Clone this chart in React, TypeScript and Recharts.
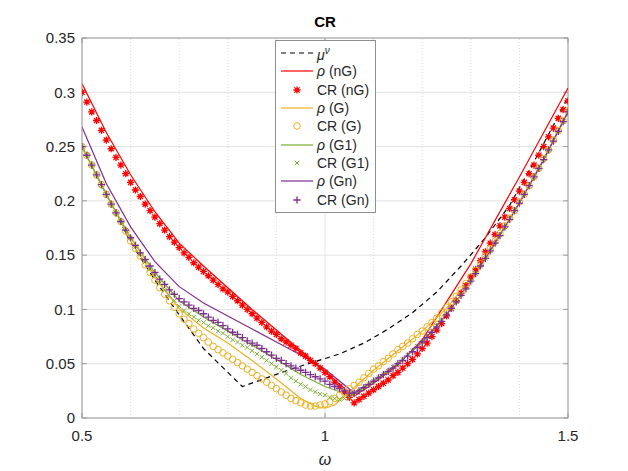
import React from "react"
import {
  ComposedChart,
  Line,
  Scatter,
  XAxis,
  YAxis,
  CartesianGrid,
  ReferenceLine,
  Legend,
} from "recharts"

const FONT = "'Liberation Sans', Arial, Helvetica, sans-serif"

// sample grid of the CR markers
const omega = [
  0.5, 0.51, 0.52, 0.53, 0.54, 0.55, 0.56, 0.57, 0.58, 0.59,
  0.6, 0.61, 0.62, 0.63, 0.64, 0.65, 0.66, 0.67, 0.68, 0.69,
  0.7, 0.71, 0.72, 0.73, 0.74, 0.75, 0.76, 0.77, 0.78, 0.79,
  0.8, 0.81, 0.82, 0.83, 0.84, 0.85, 0.86, 0.87, 0.88, 0.89,
  0.9, 0.91, 0.92, 0.93, 0.94, 0.95, 0.96, 0.97, 0.98, 0.99,
  1.0, 1.01, 1.02, 1.03, 1.04, 1.05, 1.06, 1.07, 1.08, 1.09,
  1.1, 1.11, 1.12, 1.13, 1.14, 1.15, 1.16, 1.17, 1.18, 1.19,
  1.2, 1.21, 1.22, 1.23, 1.24, 1.25, 1.26, 1.27, 1.28, 1.29,
  1.3, 1.31, 1.32, 1.33, 1.34, 1.35, 1.36, 1.37, 1.38, 1.39,
  1.4, 1.41, 1.42, 1.43, 1.44, 1.45, 1.46, 1.47, 1.48, 1.49,
  1.5,
]

const crNG = [
  0.300, 0.291, 0.282, 0.274, 0.265, 0.256, 0.248, 0.240, 0.233, 0.225,
  0.217, 0.210, 0.204, 0.197, 0.191, 0.185, 0.179, 0.173, 0.167, 0.162,
  0.157, 0.152, 0.148, 0.143, 0.139, 0.135, 0.131, 0.127, 0.123, 0.119,
  0.116, 0.112, 0.108, 0.104, 0.100, 0.096, 0.092, 0.088, 0.084, 0.080,
  0.077, 0.073, 0.070, 0.067, 0.064, 0.060, 0.057, 0.053, 0.050, 0.046,
  0.042, 0.038, 0.033, 0.029, 0.024, 0.019, 0.014, 0.017, 0.020, 0.023,
  0.026, 0.029, 0.032, 0.035, 0.039, 0.042, 0.046, 0.050, 0.054, 0.059,
  0.064, 0.069, 0.075, 0.081, 0.087, 0.094, 0.101, 0.108, 0.115, 0.122,
  0.130, 0.137, 0.145, 0.153, 0.161, 0.169, 0.177, 0.185, 0.193, 0.201,
  0.209, 0.217, 0.225, 0.233, 0.242, 0.250, 0.259, 0.267, 0.276, 0.284,
  0.292,
]

const crG = [
  0.250, 0.242, 0.233, 0.224, 0.215, 0.206, 0.197, 0.189, 0.181, 0.172,
  0.163, 0.156, 0.149, 0.141, 0.134, 0.127, 0.120, 0.114, 0.108, 0.102,
  0.096, 0.091, 0.087, 0.082, 0.078, 0.074, 0.070, 0.066, 0.063, 0.060,
  0.057, 0.054, 0.051, 0.048, 0.045, 0.042, 0.039, 0.036, 0.033, 0.030,
  0.027, 0.024, 0.021, 0.018, 0.016, 0.014, 0.012, 0.011, 0.011, 0.012,
  0.013, 0.015, 0.018, 0.021, 0.024, 0.027, 0.030, 0.033, 0.037, 0.041,
  0.045, 0.048, 0.052, 0.055, 0.059, 0.063, 0.066, 0.069, 0.073, 0.077,
  0.080, 0.084, 0.088, 0.092, 0.097, 0.102, 0.107, 0.112, 0.118, 0.124,
  0.130, 0.136, 0.142, 0.149, 0.156, 0.163, 0.170, 0.177, 0.184, 0.191,
  0.199, 0.206, 0.214, 0.222, 0.230, 0.239, 0.247, 0.256, 0.265, 0.274,
  0.283,
]

const crG1 = [
  0.250, 0.242, 0.233, 0.224, 0.215, 0.206, 0.197, 0.189, 0.181, 0.173,
  0.166, 0.158, 0.151, 0.144, 0.137, 0.131, 0.124, 0.118, 0.113, 0.108,
  0.103, 0.099, 0.096, 0.093, 0.090, 0.088, 0.085, 0.083, 0.080, 0.078,
  0.075, 0.072, 0.070, 0.067, 0.065, 0.062, 0.059, 0.056, 0.053, 0.050,
  0.047, 0.044, 0.041, 0.037, 0.034, 0.031, 0.029, 0.026, 0.024, 0.022,
  0.021, 0.019, 0.018, 0.017, 0.018, 0.019, 0.022, 0.025, 0.028, 0.031,
  0.034, 0.037, 0.040, 0.043, 0.047, 0.050, 0.054, 0.058, 0.062, 0.066,
  0.070, 0.075, 0.080, 0.085, 0.090, 0.096, 0.101, 0.107, 0.113, 0.120,
  0.126, 0.133, 0.140, 0.147, 0.154, 0.161, 0.169, 0.176, 0.184, 0.191,
  0.199, 0.206, 0.214, 0.222, 0.230, 0.239, 0.247, 0.256, 0.264, 0.273,
  0.282,
]

const crGn = [
  0.250, 0.242, 0.233, 0.224, 0.215, 0.206, 0.197, 0.189, 0.181, 0.173,
  0.166, 0.159, 0.152, 0.146, 0.140, 0.134, 0.128, 0.123, 0.118, 0.114,
  0.110, 0.107, 0.104, 0.101, 0.099, 0.096, 0.093, 0.090, 0.088, 0.085,
  0.082, 0.079, 0.077, 0.074, 0.071, 0.069, 0.067, 0.064, 0.061, 0.058,
  0.055, 0.053, 0.050, 0.048, 0.046, 0.044, 0.042, 0.040, 0.038, 0.036,
  0.034, 0.031, 0.029, 0.027, 0.025, 0.023, 0.023, 0.025, 0.028, 0.031,
  0.034, 0.037, 0.040, 0.043, 0.046, 0.050, 0.053, 0.057, 0.061, 0.065,
  0.070, 0.074, 0.079, 0.084, 0.089, 0.095, 0.101, 0.107, 0.113, 0.119,
  0.126, 0.133, 0.140, 0.147, 0.154, 0.161, 0.168, 0.176, 0.183, 0.191,
  0.198, 0.206, 0.214, 0.222, 0.230, 0.238, 0.247, 0.255, 0.264, 0.273,
  0.282,
]

// curves: own breakpoints
const muX = [0.5, 0.55, 0.6, 0.65, 0.7, 0.75, 0.8, 0.83, 0.88, 0.93, 0.98, 1.03, 1.08, 1.13, 1.18, 1.23, 1.28, 1.33, 1.38, 1.43, 1.48, 1.5]
const muY = [0.250, 0.206, 0.162, 0.127, 0.095, 0.064, 0.042, 0.029, 0.037, 0.045, 0.052, 0.059, 0.069, 0.082, 0.097, 0.116, 0.140, 0.166, 0.196, 0.236, 0.278, 0.296]

const rhoNGX = [0.5, 0.55, 0.6, 0.65, 0.7, 0.75, 0.8, 0.85, 0.9, 0.95, 1.0, 1.03, 1.06, 1.1, 1.15, 1.2, 1.25, 1.3, 1.35, 1.4, 1.45, 1.5]
const rhoNGY = [0.308, 0.263, 0.224, 0.190, 0.161, 0.140, 0.120, 0.100, 0.081, 0.062, 0.043, 0.031, 0.020, 0.032, 0.049, 0.072, 0.107, 0.142, 0.182, 0.222, 0.263, 0.304]

const rhoGX = [0.5, 0.55, 0.6, 0.65, 0.7, 0.75, 0.8, 0.85, 0.9, 0.95, 0.98, 1.0, 1.02, 1.05, 1.1, 1.15, 1.2, 1.25, 1.3, 1.35, 1.4, 1.45, 1.5]
const rhoGY = [0.250, 0.206, 0.163, 0.129, 0.101, 0.083, 0.069, 0.053, 0.036, 0.018, 0.011, 0.009, 0.012, 0.024, 0.044, 0.062, 0.080, 0.101, 0.129, 0.162, 0.198, 0.238, 0.282]

const rhoG1X = [0.5, 0.55, 0.6, 0.65, 0.7, 0.75, 0.8, 0.85, 0.9, 0.95, 1.0, 1.05, 1.06, 1.1, 1.15, 1.2, 1.25, 1.3, 1.35, 1.4, 1.45, 1.5]
const rhoG1Y = [0.250, 0.206, 0.166, 0.134, 0.108, 0.093, 0.080, 0.067, 0.054, 0.040, 0.029, 0.021, 0.022, 0.034, 0.050, 0.070, 0.095, 0.126, 0.161, 0.198, 0.238, 0.282]

const rhoGnX = [0.5, 0.55, 0.6, 0.65, 0.7, 0.75, 0.8, 0.85, 0.9, 0.95, 1.0, 1.03, 1.06, 1.1, 1.15, 1.2, 1.25, 1.3, 1.35, 1.4, 1.45, 1.5]
const rhoGnY = [0.268, 0.216, 0.176, 0.144, 0.121, 0.106, 0.094, 0.082, 0.070, 0.058, 0.045, 0.034, 0.023, 0.034, 0.050, 0.070, 0.095, 0.126, 0.161, 0.198, 0.238, 0.282]

const xTicks = [0.5, 1, 1.5]
const xMinor = [0.6, 0.7, 0.8, 0.9, 1.1, 1.2, 1.3, 1.4]
const yTicks = [0, 0.05, 0.1, 0.15, 0.2, 0.25, 0.3, 0.35]

const RED = "#FF0000"
const ORANGE = "#EDB120"
const GREEN = "#77AC30"
const PURPLE = "#7E2F8E"
const AXIS = "#9a9a9a"
const TEXT = "#262626"

const pts = (xs: number[], ys: number[]) => xs.map((x, i) => ({ x, y: ys[i] }))

const muData = pts(muX, muY)
const rhoNGData = pts(rhoNGX, rhoNGY)
const rhoGData = pts(rhoGX, rhoGY)
const rhoG1Data = pts(rhoG1X, rhoG1Y)
const rhoGnData = pts(rhoGnX, rhoGnY)
const crNGData = pts(omega, crNG)
const crGData = pts(omega, crG)
const crG1Data = pts(omega, crG1)
const crGnData = pts(omega, crGn)

// marker glyphs, MATLAB style
const asteriskPath = (cx: number, cy: number, r: number) => {
  const d = r * 0.72
  return `M${cx - r},${cy}H${cx + r}M${cx},${cy - r}V${cy + r}M${cx - d},${cy - d}L${cx + d},${cy + d}M${cx - d},${cy + d}L${cx + d},${cy - d}`
}
const crossPath = (cx: number, cy: number, r: number) =>
  `M${cx - r},${cy - r}L${cx + r},${cy + r}M${cx - r},${cy + r}L${cx + r},${cy - r}`
const plusPath = (cx: number, cy: number, r: number) =>
  `M${cx - r},${cy}H${cx + r}M${cx},${cy - r}V${cy + r}`

const Asterisk = (p: any) => <path d={asteriskPath(p.cx, p.cy, 3.6)} stroke={RED} strokeWidth={1.3} fill="none" />
const Ring = (p: any) => <circle cx={p.cx} cy={p.cy} r={3.3} stroke={ORANGE} strokeWidth={1} fill="none" />
const Cross = (p: any) => <path d={crossPath(p.cx, p.cy, 2.2)} stroke={GREEN} strokeWidth={1} fill="none" />
const Plus = (p: any) => <path d={plusPath(p.cx, p.cy, 3.6)} stroke={PURPLE} strokeWidth={1.3} fill="none" />

const legendItems = [
  { kind: "dash", color: "#000", label: <><i>μ</i><sup style={{ fontSize: 10 }}><i>ν</i></sup></> },
  { kind: "line", color: RED, label: <><i>ρ</i> (nG)</> },
  { kind: "ast", color: RED, label: <>CR (nG)</> },
  { kind: "line", color: ORANGE, label: <><i>ρ</i> (G)</> },
  { kind: "ring", color: ORANGE, label: <>CR (G)</> },
  { kind: "line", color: GREEN, label: <><i>ρ</i> (G1)</> },
  { kind: "cross", color: GREEN, label: <>CR (G1)</> },
  { kind: "line", color: PURPLE, label: <><i>ρ</i> (Gn)</> },
  { kind: "plus", color: PURPLE, label: <>CR (Gn)</> },
]

const Sample = ({ kind, color }: { kind: string; color: string }) => (
  <svg width={34} height={14} style={{ display: "block" }}>
    {kind === "dash" && <line x1={1} y1={7} x2={33} y2={7} stroke={color} strokeWidth={1.2} strokeDasharray="5 4" />}
    {kind === "line" && <line x1={1} y1={7} x2={33} y2={7} stroke={color} strokeWidth={1.2} />}
    {kind === "ast" && <path d={asteriskPath(17, 7, 3.6)} stroke={color} strokeWidth={1.3} />}
    {kind === "ring" && <circle cx={17} cy={7} r={3.3} stroke={color} fill="none" />}
    {kind === "cross" && <path d={crossPath(17, 7, 2.2)} stroke={color} />}
    {kind === "plus" && <path d={plusPath(17, 7, 3.6)} stroke={color} strokeWidth={1.3} />}
  </svg>
)

const LegendBox = () => (
  <div
    style={{
      border: "1px solid #8f8f8f",
      background: "#fff",
      padding: "3px 6px 3px 4px",
      fontFamily: FONT,
      fontSize: 14,
      color: TEXT,
    }}
  >
    {legendItems.map((it, i) => (
      <div key={i} style={{ display: "flex", alignItems: "center", height: 18.3, lineHeight: "18px" }}>
        <Sample kind={it.kind} color={it.color} />
        <span style={{ marginLeft: 3, whiteSpace: "nowrap" }}>{it.label}</span>
      </div>
    ))}
  </div>
)

const yFmt = (v: number) => String(Number(v.toFixed(2)))

export default function App() {
  return (
    <div style={{ position: "absolute", left: 0, top: 0, width: 628, height: 471, background: "#fff" }}>
      <div
        style={{
          position: "absolute",
          left: 275,
          width: 100,
          top: 13,
          textAlign: "center",
          fontFamily: FONT,
          fontWeight: "bold",
          fontSize: 15,
          color: "#000",
          zIndex: 2,
        }}
      >
        CR
      </div>
      <ComposedChart width={628} height={471} margin={{ top: 38, right: 60, bottom: 0, left: 0 }}>
        <CartesianGrid stroke="#e3e3e3" strokeWidth={1} />
        {xMinor.map((v) => (
          <ReferenceLine key={`m${v}`} x={v} stroke="#dcdcdc" strokeDasharray="1 2" />
        ))}
        <XAxis
          type="number"
          dataKey="x"
          domain={[0.5, 1.5]}
          ticks={xTicks}
          allowDataOverflow
          height={53}
          stroke={AXIS}
          tickLine={false}
          tickSize={0}
          tickMargin={12}
          tick={{ fill: TEXT, fontSize: 15, fontFamily: FONT }}
          label={{ value: "ω", position: "insideBottom", offset: 6, fill: TEXT, fontSize: 16, fontStyle: "italic", fontFamily: FONT }}
        />
        <YAxis
          type="number"
          dataKey="y"
          domain={[0, 0.35]}
          ticks={yTicks}
          allowDataOverflow
          width={82}
          stroke={AXIS}
          tickLine={false}
          tickSize={0}
          tickMargin={7}
          tickFormatter={yFmt}
          tick={{ fill: TEXT, fontSize: 15, fontFamily: FONT }}
        />
        <ReferenceLine y={0.35} stroke={AXIS} />
        <ReferenceLine x={1.5} stroke={AXIS} />
        {yTicks.map((v) => (
          <ReferenceLine key={`yl${v}`} segment={[{ x: 0.5, y: v }, { x: 0.51, y: v }]} stroke={AXIS} />
        ))}
        {yTicks.map((v) => (
          <ReferenceLine key={`yr${v}`} segment={[{ x: 1.49, y: v }, { x: 1.5, y: v }]} stroke={AXIS} />
        ))}
        {xTicks.map((v) => (
          <ReferenceLine key={`xb${v}`} segment={[{ x: v, y: 0 }, { x: v, y: 0.0046 }]} stroke={AXIS} />
        ))}
        {xTicks.map((v) => (
          <ReferenceLine key={`xt${v}`} segment={[{ x: v, y: 0.3454 }, { x: v, y: 0.35 }]} stroke={AXIS} />
        ))}
        <Line data={muData} dataKey="y" type="linear" stroke="#000" strokeWidth={1.2} strokeDasharray="5 4" dot={false} isAnimationActive={false} />
        <Line data={rhoNGData} dataKey="y" type="linear" stroke={RED} strokeWidth={1.2} dot={false} isAnimationActive={false} />
        <Scatter data={crNGData} dataKey="y" shape={Asterisk} isAnimationActive={false} />
        <Line data={rhoGData} dataKey="y" type="linear" stroke={ORANGE} strokeWidth={1.2} dot={false} isAnimationActive={false} />
        <Scatter data={crGData} dataKey="y" shape={Ring} isAnimationActive={false} />
        <Line data={rhoG1Data} dataKey="y" type="linear" stroke={GREEN} strokeWidth={1.2} dot={false} isAnimationActive={false} />
        <Scatter data={crG1Data} dataKey="y" shape={Cross} isAnimationActive={false} />
        <Line data={rhoGnData} dataKey="y" type="linear" stroke={PURPLE} strokeWidth={1.2} dot={false} isAnimationActive={false} />
        <Scatter data={crGnData} dataKey="y" shape={Plus} isAnimationActive={false} />
        <Legend
          layout="vertical"
          align="center"
          verticalAlign="middle"
          content={() => <LegendBox />}
          wrapperStyle={{ left: 275, top: 40, width: "auto" }}
        />
      </ComposedChart>
    </div>
  )
}
